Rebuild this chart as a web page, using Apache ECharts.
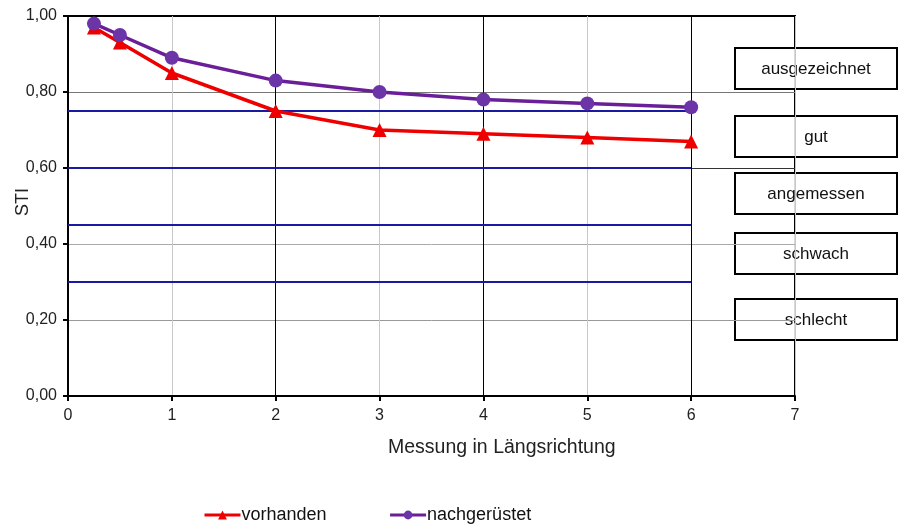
<!DOCTYPE html>
<html><head><meta charset="utf-8">
<script src="https://cdn.jsdelivr.net/npm/echarts@6/dist/echarts.min.js"></script>
<style>html,body{margin:0;padding:0;background:#fff}#c{width:904px;height:528px}</style>
</head><body><div id="c"></div>
<script>
// Data
const xPositions = [0.25, 0.5, 1, 2, 3, 4, 5, 6];
const vorhanden = [0.97, 0.93, 0.85, 0.75, 0.70, 0.69, 0.68, 0.67];
const nachgeruestet = [0.98, 0.95, 0.89, 0.83, 0.80, 0.78, 0.77, 0.76];
const thresholds = [0.75, 0.60, 0.45, 0.30];
const thresholdRange = [0, 6];
const ratingLabels = ['ausgezeichnet', 'gut', 'angemessen', 'schwach', 'schlecht'];
const seriesNames = ['vorhanden', 'nachgerüstet'];
const yAxisTitle = 'STI';
const xAxisTitle = 'Messung in Längsrichtung';

const font = 'Liberation Sans, Arial, sans-serif';
const chart = echarts.init(document.getElementById('c'));

const thresholdSeries = thresholds.map((t, i) => ({
  name: 'grenze' + i,
  type: 'line',
  data: thresholdRange.map(x => [x, t]),
  symbol: 'none',
  lineStyle: { color: '#1a1aa0', width: 2 },
  z: 2, silent: true, animation: false
}));

// rating boxes (position layout only)
const boxTops = [47, 115, 172, 232, 298];
const boxH = 41;
const boxGraphics = ratingLabels.map((lab, i) => ({
  type: 'group',
  left: 734, top: boxTops[i],
  children: [
    { type: 'rect', shape: { x: 0, y: 0, width: 162, height: boxH },
      style: { fill: 'rgba(255,255,255,0.85)', stroke: '#000', lineWidth: 2 } },
    { type: 'text', x: 81, y: boxH / 2 + 1,
      style: { text: lab, fill: '#111', font: '17px ' + font, align: 'center', verticalAlign: 'middle' } }
  ],
  z: 100
}));

chart.setOption({
  animation: false,
  textStyle: { fontFamily: font },
  grid: { left: 68, right: 109, top: 16, bottom: 132, outerBoundsMode: 'none', containLabel: false,
          show: true, borderColor: '#000', borderWidth: 2, backgroundColor: 'transparent' },
  xAxis: {
    type: 'value', min: 0, max: 7, interval: 1,
    axisLine: { lineStyle: { color: '#000', width: 2 } },
    axisTick: { show: true, length: 5, lineStyle: { color: '#000', width: 2 } },
    axisLabel: { color: '#222', fontSize: 16, margin: 12 },
    splitLine: { show: true, lineStyle: { color: ['#000', '#c8c8c8'], width: 1 } }
  },
  yAxis: {
    type: 'value', min: 0, max: 1, interval: 0.2,
    axisLine: { show: true, lineStyle: { color: '#000', width: 2 } },
    axisTick: { show: true, length: 5, lineStyle: { color: '#000', width: 2 } },
    axisLabel: { color: '#222', fontSize: 16, margin: 11, formatter: v => v.toFixed(2).replace('.', ',') },
    splitLine: { show: true, lineStyle: { color: ['#000', '#999', '#aaa', '#333', '#777', '#000'], width: 1 } }
  },
  legend: {
    data: seriesNames,
    left: 198, top: 501, itemWidth: 36, itemHeight: 11, itemGap: 62,
    lineStyle: { width: 3 },
    textStyle: { fontSize: 18, color: '#111', padding: [0, 0, 0, -4] }
  },
  graphic: [
    { type: 'text', left: 388, top: 438, style: { text: xAxisTitle, fill: '#222', font: '19.5px ' + font } },
    { type: 'text', x: 23, y: 202, rotation: Math.PI / 2,
      style: { text: yAxisTitle, fill: '#222', font: '18px ' + font, align: 'center', verticalAlign: 'middle' } },
    ...boxGraphics
  ],
  series: [
    ...thresholdSeries,
    {
      name: seriesNames[0], type: 'line',
      data: xPositions.map((x, i) => [x, vorhanden[i]]),
      symbol: 'triangle', symbolSize: 14,
      lineStyle: { color: '#ee0000', width: 3.5 },
      itemStyle: { color: '#ee0000' }, z: 5
    },
    {
      name: seriesNames[1], type: 'line',
      data: xPositions.map((x, i) => [x, nachgeruestet[i]]),
      symbol: 'circle', symbolSize: 14,
      lineStyle: { color: '#6a1f99', width: 3.5 },
      itemStyle: { color: '#6b35a8' }, z: 6
    }
  ]
});
</script></body></html>
